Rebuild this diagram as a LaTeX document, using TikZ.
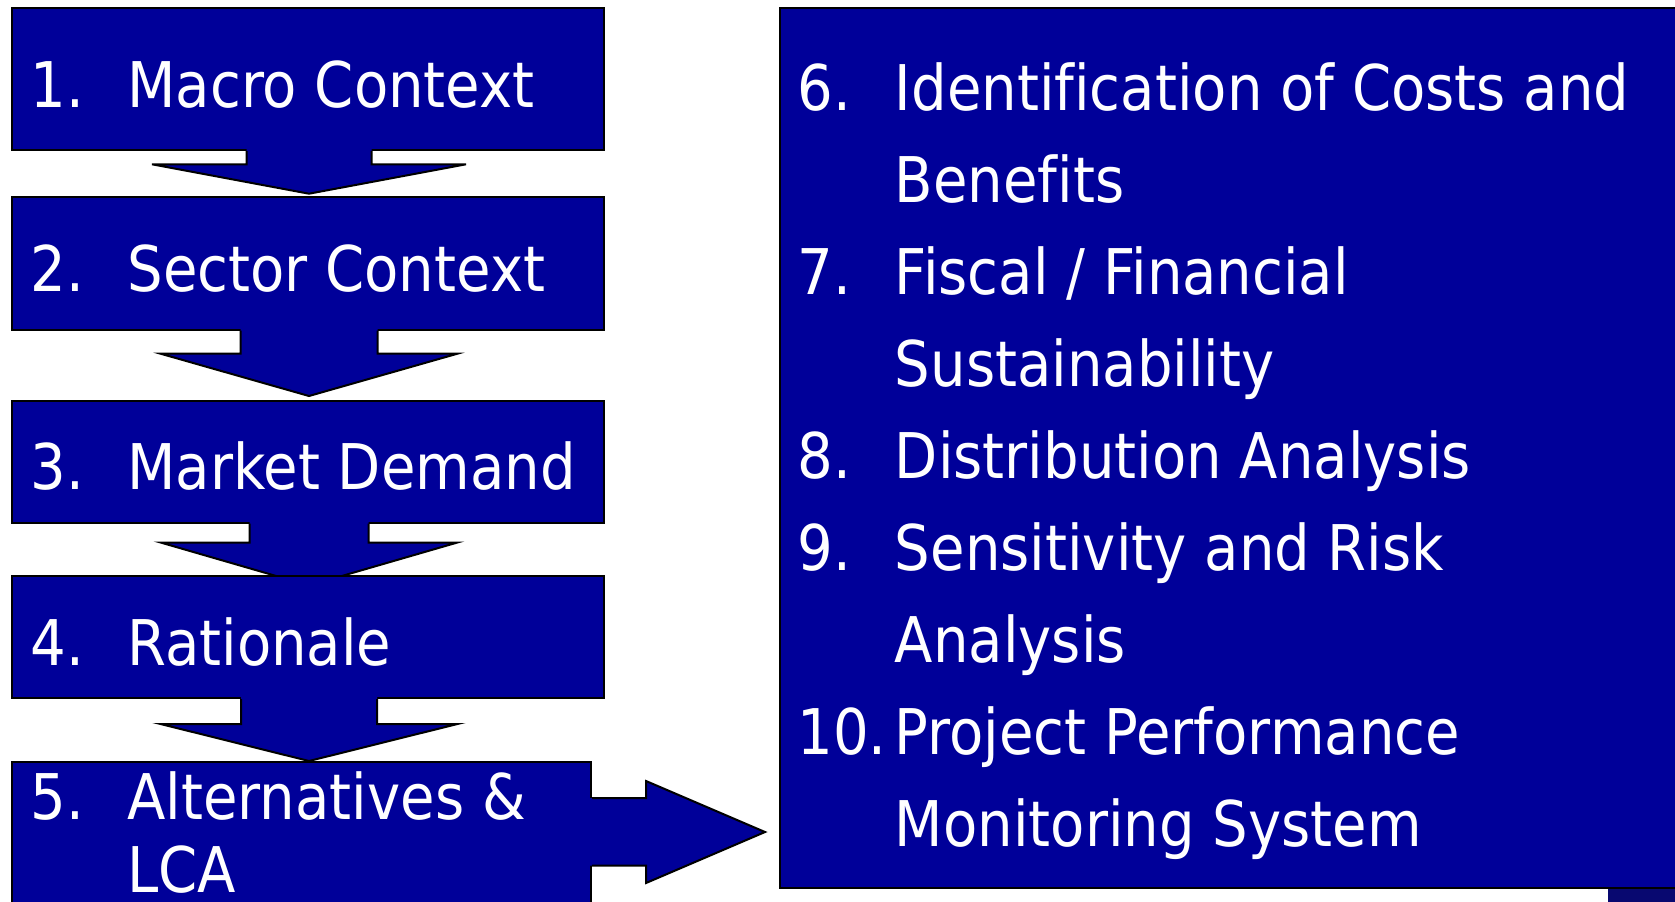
\documentclass[tikz,border=0pt]{standalone}
\usepackage{fontspec}
\setmainfont{DejaVu Sans}[FakeStretch=0.89, Ligatures=NoCommon]
\usetikzlibrary{calc}
\definecolor{boxblue}{RGB}{0,0,153}
\definecolor{shadeblue}{RGB}{8,8,112}
\tikzset{
  box/.style={draw=black, line width=1pt, fill=boxblue, rectangle, inner sep=0pt},
  outline/.style={draw=black, line width=1pt},
  lbl/.style={anchor=base west, inner sep=0pt, text=white, font=\fontsize{31.5pt}{37pt}\selectfont},
}
% #1 source node, #2 half shaft width, #3 half wing width, #4 shaft length, #5 head length
\newcommand{\dnarr}[5]{%
  \coordinate (S) at ($(#1.south)+(1.5,0)$);
  \fill[boxblue] ($(S)+(-#2,-2)$) -- ($(S)+(-#2,#4)$) -- ($(S)+(-#3,#4)$) -- ($(S)+(0,#4+#5)$)
     -- ($(S)+(#3,#4)$) -- ($(S)+(#2,#4)$) -- ($(S)+(#2,-2)$) -- cycle;
  \draw[outline] ($(S)+(-#2,0)$) -- ($(S)+(-#2,#4)$) -- ($(S)+(-#3,#4)$) -- ($(S)+(0,#4+#5)$)
     -- ($(S)+(#3,#4)$) -- ($(S)+(#2,#4)$) -- ($(S)+(#2,0)$);}
\begin{document}
\begin{tikzpicture}[x=0.5pt,y=-0.5pt]
\clip (0,0) rectangle (1675,901);
\fill[white] (0,0) rectangle (1675,901);

\node[box, minimum width=296pt, minimum height=71pt] (b1) at (307.5,79) {};
\dnarr{b1}{62.5}{157}{13.3}{29.4}
\node[box, minimum width=296pt, minimum height=66.25pt] (b2) at (307.5,263.25) {};
\dnarr{b2}{68.5}{148.4}{23.2}{42.3}
\node[box, minimum width=296pt, minimum height=61pt] (b3) at (307.5,461.5) {};
\dnarr{b3}{59.5}{148.4}{19}{43}
\node[box, minimum width=296pt, minimum height=61.25pt] (b4) at (307.5,636.75) {};
\dnarr{b4}{68}{148.4}{25}{37}
\node[box, minimum width=289.75pt, minimum height=99.25pt] (b5) at (301.25,860.75) {};
% right block arrow from b5 to b6
\coordinate (R) at (b5.north east);
\fill[boxblue] ($(R)+(-2,37.5)$) -- ($(R)+(54,37.5)$) -- ($(R)+(54,20.5)$) -- ($(R)+(173,71.5)$)
   -- ($(R)+(54,122.5)$) -- ($(R)+(54,105)$) -- ($(R)+(-2,105)$) -- cycle;
\draw[outline] ($(R)+(0,37.5)$) -- ($(R)+(54,37.5)$) -- ($(R)+(54,20.5)$) -- ($(R)+(173,71.5)$)
   -- ($(R)+(54,122.5)$) -- ($(R)+(54,105)$) -- ($(R)+(0,105)$);
\node[box, minimum width=470pt, minimum height=439.75pt] (b6) at (1250,447.75) {};
\node[fill=shadeblue, inner sep=0pt, minimum width=41pt, minimum height=10.5pt] (sh) at (1649,899.5) {};

% left texts
\node[lbl] (n1) at (30,107.3) {1.};
\node[lbl] (t1) at (127,107.3) {Macro Context};
\node[lbl] (n2) at (30,291.7) {2.};
\node[lbl] (t2) at (127,291.7) {Sector Context};
\node[lbl] (n3) at (30,489.3) {3.};
\node[lbl] (t3) at (127,489.3) {Market Demand};
\node[lbl] (n4) at (30,665) {4.};
\node[lbl] (t4) at (127,665) {Rationale};
\node[lbl] (n5) at (30,819.3) {5.};
\node[lbl] (t5) at (127,819.3) {Alternatives \&};
\node[lbl] (t5b) at (127,892) {LCA};

% right texts
\node[lbl] (n6) at (797,110.7) {6.};
\node[lbl] (t6) at (894.5,110.7) {Identification of Costs and};
\node[lbl] (t6b) at (894.5,202.7) {Benefits};
\node[lbl] (n7) at (797,294.7) {7.};
\node[lbl] (t7) at (894.5,294.7) {Fiscal / Financial};
\node[lbl] (t7b) at (894.5,386.7) {Sustainability};
\node[lbl] (n8) at (797,478.7) {8.};
\node[lbl] (t8) at (894.5,478.7) {Distribution Analysis};
\node[lbl] (n9) at (797,570.7) {9.};
\node[lbl] (t9) at (894.5,570.7) {Sensitivity and Risk};
\node[lbl] (t9b) at (894.5,662.7) {Analysis};
\node[lbl] (n10) at (797,754.7) {10.};
\node[lbl] (t10) at (894.5,754.7) {Project Performance};
\node[lbl] (t10b) at (894.5,846.7) {Monitoring System};
\end{tikzpicture}
\end{document}
